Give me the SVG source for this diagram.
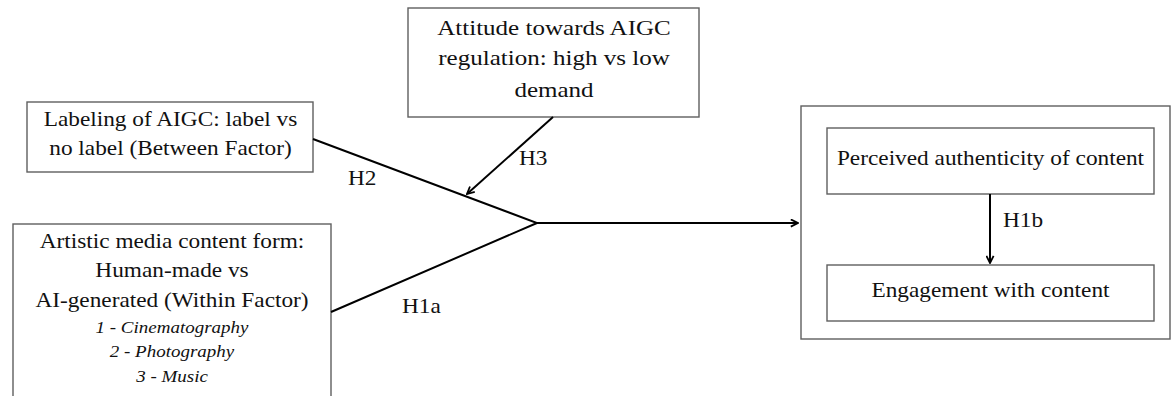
<svg xmlns="http://www.w3.org/2000/svg" width="1171" height="396" viewBox="0 0 1171 396">
<style>
.box{fill:#fff;stroke:#5f5f5f;stroke-width:1.4}
.t{font-family:"Liberation Serif","Times New Roman",serif;font-size:20px;fill:#111;text-anchor:middle}
.tl{font-family:"Liberation Serif","Times New Roman",serif;font-size:20px;fill:#111}
.it{font-family:"Liberation Serif","Times New Roman",serif;font-size:16.3px;font-style:italic;fill:#111;text-anchor:middle}
.c{fill:none;stroke:#000;stroke-width:2}
</style>
<defs>
<marker id="arr" viewBox="0 0 10 10" refX="9" refY="5" markerWidth="4.5" markerHeight="4.5" orient="auto" markerUnits="strokeWidth">
<path d="M1,1 L9,5 L1,9" fill="none" stroke="#000" stroke-width="2"/>
</marker>
</defs>
<rect width="1171" height="396" fill="#fff"/>
<g id="labeling">
<rect class="box" x="27" y="102" width="286" height="70"/>
<text class="t" transform="translate(170.5,126) scale(1.165,1)">Labeling of AIGC: label vs</text>
<text class="t" transform="translate(170.5,155) scale(1.165,1)">no label (Between Factor)</text>
</g>
<g id="artistic">
<rect class="box" x="13" y="224" width="318" height="190"/>
<text class="t" transform="translate(172,248) scale(1.165,1)">Artistic media content form:</text>
<text class="t" transform="translate(172,277) scale(1.165,1)">Human-made vs</text>
<text class="t" transform="translate(172,307) scale(1.165,1)">AI-generated (Within Factor)</text>
<text class="it" transform="translate(172,333) scale(1.165,1)">1 - Cinematography</text>
<text class="it" transform="translate(172,357) scale(1.165,1)">2 - Photography</text>
<text class="it" transform="translate(172,382) scale(1.165,1)">3 - Music</text>
</g>
<g id="attitude">
<rect class="box" x="408" y="8" width="291" height="109"/>
<text class="t" style="font-size:21.5px" transform="translate(554,35) scale(1.165,1)">Attitude towards AIGC</text>
<text class="t" style="font-size:21.5px" transform="translate(554,65) scale(1.165,1)">regulation: high vs low</text>
<text class="t" style="font-size:21.5px" transform="translate(554,96.5) scale(1.165,1)">demand</text>
</g>
<g id="outcomes">
<rect class="box" x="801" y="106" width="369" height="233"/>
</g>
<g id="authenticity">
<rect class="box" x="827" y="128" width="327" height="66"/>
<text class="t" transform="translate(990.5,165) scale(1.165,1)">Perceived authenticity of content</text>
</g>
<g id="engagement">
<rect class="box" x="827" y="265" width="327" height="56"/>
<text class="t" transform="translate(990.5,297) scale(1.165,1)">Engagement with content</text>
</g>
<g id="connectors">
<polyline class="c" points="313,139 537,223 331,312"/>
<line class="c" x1="537" y1="223" x2="798" y2="223" marker-end="url(#arr)"/>
<line class="c" x1="553" y1="117" x2="467" y2="194" marker-end="url(#arr)"/>
<line class="c" x1="990" y1="194" x2="990" y2="263" marker-end="url(#arr)"/>
<text class="tl" transform="translate(348,185) scale(1.165,1)">H2</text>
<text class="tl" transform="translate(519,165) scale(1.165,1)">H3</text>
<text class="tl" transform="translate(402,313) scale(1.165,1)">H1a</text>
<text class="tl" transform="translate(1003,227) scale(1.165,1)">H1b</text>
</g>
</svg>
